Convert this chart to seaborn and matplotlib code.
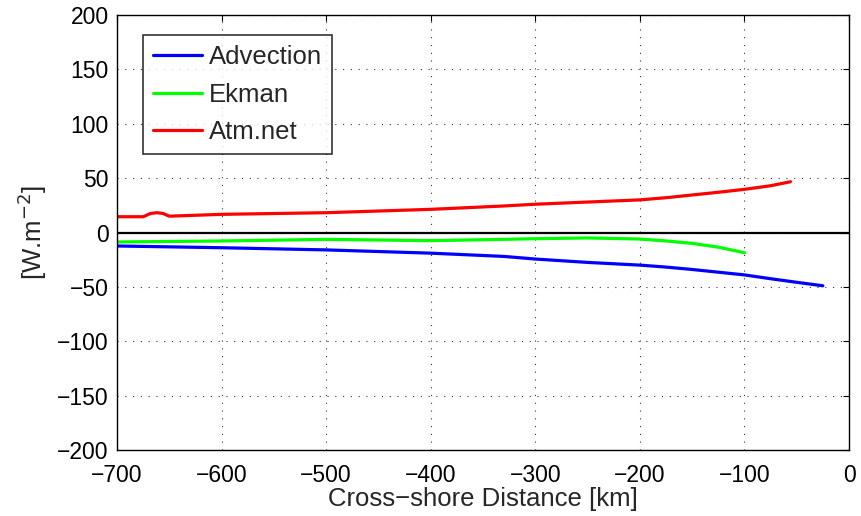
import matplotlib
matplotlib.use("Agg")
import matplotlib.pyplot as plt
import seaborn as sns
import pandas as pd
import numpy as np

adv_x = [-700, -600, -500, -400, -330, -300, -250, -200, -175, -150, -125, -100, -75, -50, -25]
adv_y = [-12.4, -14, -16, -19, -22, -24.4, -27.5, -30, -31.8, -34, -36.5, -39, -42.5, -45.8, -49]
ekm_x = [-700, -600, -500, -400, -330, -300, -250, -200, -175, -150, -125, -100]
ekm_y = [-8.7, -7.8, -6.3, -7.5, -6.3, -5.7, -5, -6, -7.8, -10, -13.5, -18.6]
atm_x = [-700, -675, -668, -662, -656, -650, -600, -500, -400, -330, -300, -250, -200, -175, -150, -125, -100, -75, -56]
atm_y = [14.5, 14.5, 17.5, 18.2, 17.5, 15, 16.7, 18.2, 21.3, 24.4, 26, 28, 30, 32, 34.5, 37, 39.7, 43, 46.7]
labels = ["Advection", "Ekman", "Atm.net"]
colors = ["#0000ff", "#00ff00", "#ff0000"]

df = pd.concat([
    pd.DataFrame({"x": adv_x, "y": adv_y, "s": labels[0]}),
    pd.DataFrame({"x": ekm_x, "y": ekm_y, "s": labels[1]}),
    pd.DataFrame({"x": atm_x, "y": atm_y, "s": labels[2]}),
])

sns.set_style("white")
plt.rcParams['font.family'] = ['Liberation Sans', 'DejaVu Sans']
plt.rcParams['axes.unicode_minus'] = True

fig = plt.figure(figsize=(8.61, 5.16), dpi=100)
ax = fig.add_axes([117/861, 1-450/516, (849-117)/861, (450-15)/516])
sns.lineplot(data=df, x="x", y="y", hue="s", palette=dict(zip(labels, colors)),
             linewidth=2.3, ax=ax, sort=False, estimator=None)
ax.axhline(0, color="black", linewidth=1.6)
ax.set_xlim(-700, 0)
ax.set_ylim(-200, 200)
ax.set_xticks(np.arange(-700, 1, 100))
ax.set_yticks(np.arange(-200, 201, 50))
ax.grid(True, color="#333333", linestyle=(0, (1, 6)), linewidth=0.8)
ax.tick_params(direction="in", length=4, labelsize=16.5, top=True, right=True,
               colors="black")
ax.tick_params(axis="y", pad=6)
ax.tick_params(axis="x", pad=10)
for s in ax.spines.values():
    s.set_color("black"); s.set_linewidth(1)
ax.set_xlabel("Cross\u2212shore Distance [km]", fontsize=18.5, labelpad=0)
ax.set_ylabel("[W.m$^{-2}$]", fontsize=18.5, labelpad=6)
leg = ax.legend(loc="upper left", bbox_to_anchor=(26/732, 1-20/435), fontsize=18.5,
                frameon=True, fancybox=False, edgecolor="black", handlelength=1.9,
                handletextpad=0.25, borderpad=0.4, labelspacing=0.52, borderaxespad=0)
leg.get_frame().set_linewidth(1.2)
fig.savefig("out.png", dpi=100)
